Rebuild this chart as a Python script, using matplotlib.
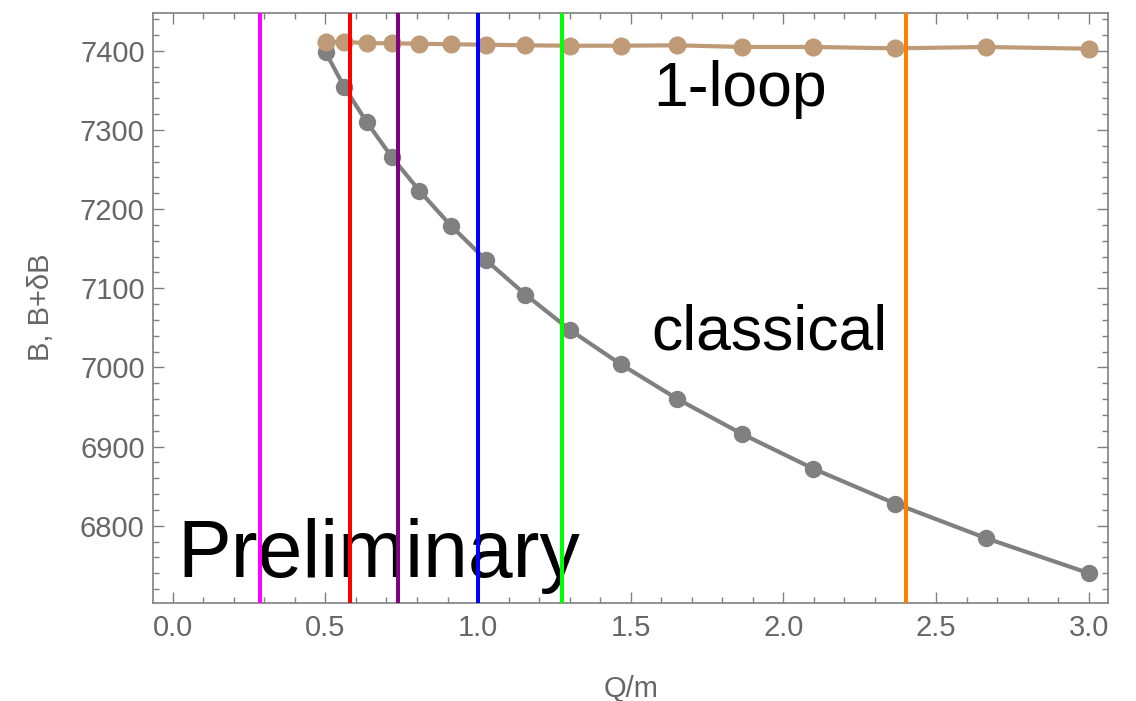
import matplotlib
matplotlib.use("Agg")
import matplotlib.pyplot as plt
from matplotlib.ticker import MultipleLocator

plt.rcParams['font.family'] = ['Liberation Sans', 'DejaVu Sans']

# Data
q_over_m = [0.501, 0.562, 0.635, 0.717, 0.808, 0.911, 1.026, 1.155,
            1.302, 1.467, 1.653, 1.864, 2.098, 2.365, 2.665, 3.0]
classical = [7398, 7354, 7310, 7266, 7223, 7179, 7135.5, 7092,
             7047, 7004, 6960, 6916, 6872, 6828, 6784, 6740]
one_loop = [7411, 7411, 7409.7, 7409.3, 7408.8, 7408.1, 7407.6, 7406.8,
            7406.3, 7406.3, 7406.8, 7404.7, 7404.7, 7403.0, 7404.7, 7402.5]
vlines_x = [0.286, 0.581, 0.739, 1.0, 1.274, 2.403]
vlines_colors = ['#FF00FF', '#FF0000', '#800080', '#0000FF', '#00FF00', '#FF8000']

fig = plt.figure(figsize=(11.36, 7.01), dpi=100)
ax = fig.add_axes([153/1136, 1 - 602.7/701, (1108.3-153)/1136, (602.7-12.7)/701])

ax.plot(q_over_m, classical, '-o', color='#808080', lw=3.0, ms=11.5, zorder=3)
ax.plot(q_over_m, one_loop, '-o', color='#BF9A77', lw=3.0, ms=12, zorder=4)
for xv, c in zip(vlines_x, vlines_colors):
    ax.axvline(xv, color=c, lw=2.9, zorder=6)

ax.set_xlim(-0.0645, 3.064)
ax.set_ylim(6702.7, 7448)

ax.xaxis.set_major_locator(MultipleLocator(0.5))
ax.xaxis.set_minor_locator(MultipleLocator(0.1))
ax.yaxis.set_major_locator(MultipleLocator(100))
ax.yaxis.set_minor_locator(MultipleLocator(20))
ax.xaxis.set_major_formatter(plt.FuncFormatter(lambda v, p: f"{v:.1f}"))
ax.yaxis.set_major_formatter(plt.FuncFormatter(lambda v, p: f"{v:.0f}"))

spine_col = '#808080'
for s in ax.spines.values():
    s.set_color(spine_col)
    s.set_linewidth(1.2)
ax.tick_params(which='both', direction='in', top=True, right=True,
               color=spine_col, width=1.0, labelcolor='#666666', labelsize=21)
ax.tick_params(which='major', length=8)
ax.tick_params(which='minor', length=4.5)
ax.tick_params(axis='x', which='major', pad=8)
ax.tick_params(axis='y', which='major', pad=6)

ax.set_xlabel('Q/m', fontsize=21, color='#666666', labelpad=24)
ax.set_ylabel('B, B+δB', fontsize=21, color='#666666', labelpad=18)

ax.text(1.573, 7330.2, '1-loop', fontsize=45, color='black', va='baseline', ha='left', zorder=5)
ax.text(1.568, 7022.8, 'classical', fontsize=45, color='black', va='baseline', ha='left', zorder=5)
ax.text(0.015, 6735.6, 'Preliminary', fontsize=58, color='black', va='baseline', ha='left', zorder=5)

fig.savefig('out.png', dpi=100)
